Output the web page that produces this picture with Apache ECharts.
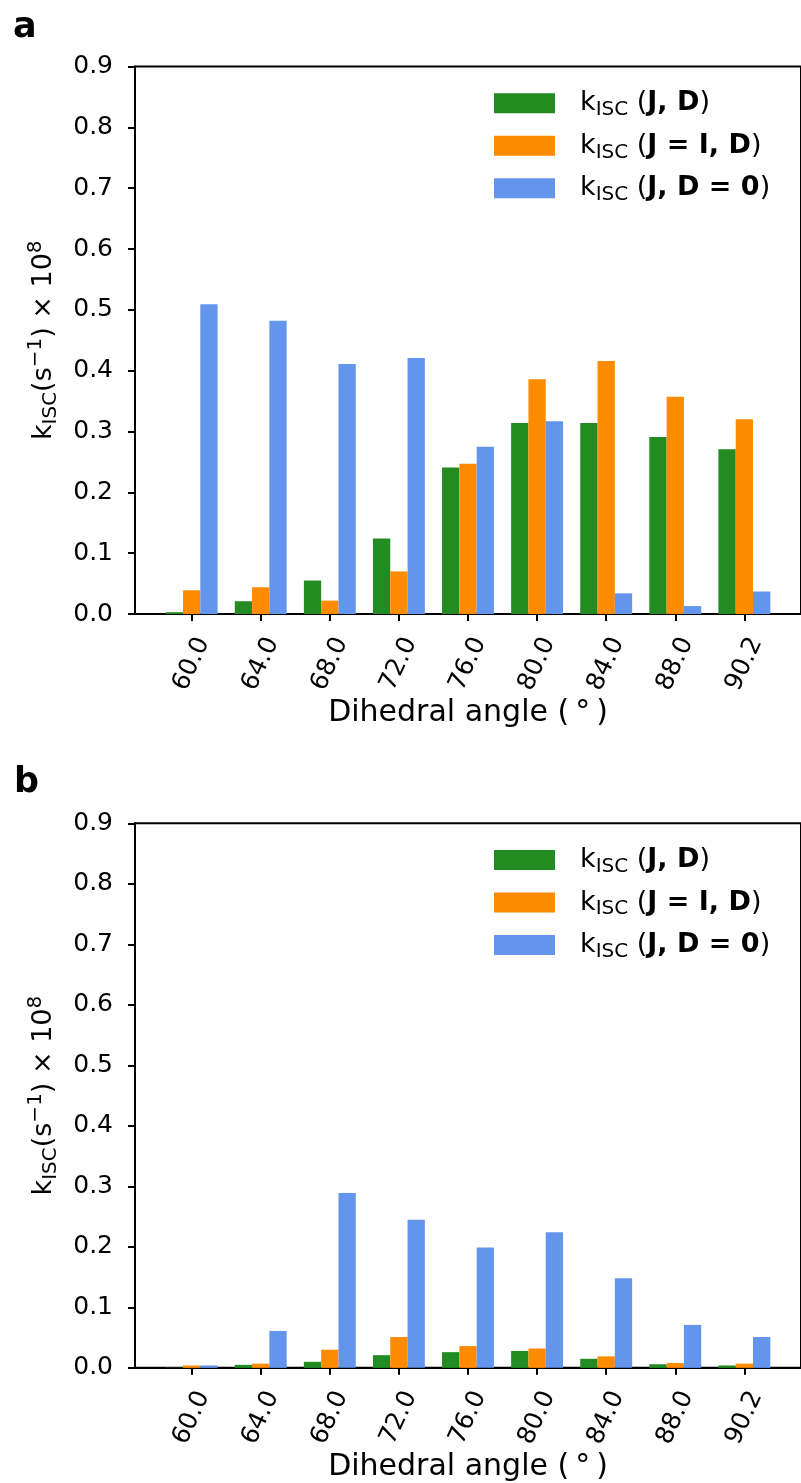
<!DOCTYPE html>
<html>
<head>
<meta charset="utf-8">
<script src="https://cdn.jsdelivr.net/npm/echarts@6/dist/echarts.min.js"></script>
<style>
  html, body { margin: 0; background: #fff; }
  #main { width: 801px; height: 1483px; }
</style>
</head>
<body>
<div id="main"></div>
<script>
  // tick labels of the dihedral angle axis
  const angles = ['60.0', '64.0', '68.0', '72.0', '76.0', '80.0', '84.0', '88.0', '90.2'];

  // panel a
  const aJD = [0.003, 0.021, 0.055, 0.124, 0.241, 0.314, 0.314, 0.291, 0.271];
  const aJI = [0.039, 0.044, 0.022, 0.070, 0.247, 0.386, 0.416, 0.357, 0.320];
  const aD0 = [0.509, 0.482, 0.411, 0.421, 0.275, 0.317, 0.034, 0.013, 0.037];

  // panel b
  const bJD = [0.0005, 0.005, 0.010, 0.021, 0.026, 0.028, 0.015, 0.006, 0.004];
  const bJI = [0.004, 0.007, 0.030, 0.051, 0.036, 0.032, 0.019, 0.008, 0.007];
  const bD0 = [0.004, 0.061, 0.289, 0.245, 0.199, 0.224, 0.148, 0.071, 0.051];

  const seriesNames = ['J, D', 'J = I, D', 'J, D = 0'];
  const colors = ['#228B22', '#FF8C00', '#6495ED'];

  const F = '"DejaVu Sans"';
  const idx = angles.map((a, i) => i);

  // sub/superscripts: tokens are centred in the line, padding pushes them down/up
  const legendText = {
    'J, D': '{k|k}{sub|ISC}{n| (}{b|J, D}{n|)}',
    'J = I, D': '{k|k}{sub|ISC}{n| (}{b|J = I, D}{n|)}',
    'J, D = 0': '{k|k}{sub|ISC}{n| (}{b|J, D = 0}{n|)}'
  };
  const legendRich = {
    k: { fontSize: 27, fontFamily: F, color: '#000', lineHeight: 27, padding: [0, 0, 0, 20] },
    sub: { fontSize: 20, fontFamily: F, color: '#000', lineHeight: 20, padding: [13, 0, 0, 0] },
    n: { fontSize: 27, fontFamily: F, color: '#000', lineHeight: 27 },
    b: { fontSize: 27, fontFamily: F, fontWeight: 'bold', color: '#000', lineHeight: 27 }
  };

  const yName = '{k|k}{sub|ISC}{n|(s}{sup|\u22121}{n|) \u00d7 10}{sup|8}';
  const yNameRich = {
    k: { fontSize: 27, fontFamily: F, color: '#000', lineHeight: 27 },
    n: { fontSize: 27, fontFamily: F, color: '#000', lineHeight: 27 },
    sub: { fontSize: 20, fontFamily: F, color: '#000', lineHeight: 20, padding: [13, 0, 0, 0] },
    sup: { fontSize: 20, fontFamily: F, color: '#000', lineHeight: 20, padding: [0, 0, 17, 0] }
  };

  const black = { color: '#000', width: 2 };

  function makeX(g) {
    return {
      type: 'value', gridIndex: g, min: -0.82, max: 8.82,
      splitLine: { show: false },
      axisLine: { show: true, onZero: false, lineStyle: black },
      axisTick: { show: true, customValues: idx, length: 7, lineStyle: black },
      axisLabel: {
        customValues: idx, formatter: v => angles[Math.round(v)],
        rotate: 65, align: 'center', verticalAlign: 'middle', margin: 50,
        fontSize: 25, fontFamily: F, color: '#000'
      },
      name: 'Dihedral angle (\u2009\u00b0\u2009)', nameLocation: 'middle', nameGap: 76,
      nameTextStyle: { fontSize: 30, fontFamily: F, color: '#000' }
    };
  }

  function makeY(g) {
    return {
      type: 'value', gridIndex: g, min: 0, max: 0.9, interval: 0.1,
      splitLine: { show: false },
      axisLine: { show: true, onZero: false, lineStyle: black },
      axisTick: { show: true, length: 7, lineStyle: black },
      axisLabel: { formatter: v => v.toFixed(1), margin: 22, fontSize: 25, fontFamily: F, color: '#000' },
      name: yName, nameLocation: 'middle', nameGap: 57,
      nameTextStyle: { rich: yNameRich }
    };
  }

  function makeLegend(top) {
    return {
      data: seriesNames, orient: 'vertical', left: 494, top: top, padding: 0,
      itemWidth: 61, itemHeight: 20, itemGap: 9.5, icon: 'rect',
      selectedMode: false,
      formatter: n => legendText[n],
      textStyle: { color: '#000', rich: legendRich }
    };
  }

  function makeBars(g, lists) {
    return lists.map((vals, s) => ({
      type: 'bar', name: seriesNames[s], xAxisIndex: g, yAxisIndex: g,
      data: vals.map((v, i) => [i, v]),
      barWidth: 17.3, barGap: '0%',
      itemStyle: { color: colors[s] }
    }));
  }

  const chart = echarts.init(document.getElementById('main'));
  chart.setOption({
    animation: false,
    backgroundColor: '#fff',
    grid: [
      { left: 135, top: 66.5, width: 669, height: 547.5, show: true, borderColor: '#000', borderWidth: 2 },
      { left: 135, top: 823.3, width: 669, height: 549, show: true, borderColor: '#000', borderWidth: 2 }
    ],
    xAxis: [makeX(0), makeX(1)],
    yAxis: [makeY(0), makeY(1)],
    legend: [makeLegend(86.8), makeLegend(843.5)],
    graphic: [
      { type: 'text', left: 13, top: 10, style: { text: 'a', font: 'bold 35px "DejaVu Sans"', fill: '#000' } },
      { type: 'text', left: 14, top: 765, style: { text: 'b', font: 'bold 35px "DejaVu Sans"', fill: '#000' } }
    ],
    series: makeBars(0, [aJD, aJI, aD0]).concat(makeBars(1, [bJD, bJI, bD0]))
  });
</script>
</body>
</html>
